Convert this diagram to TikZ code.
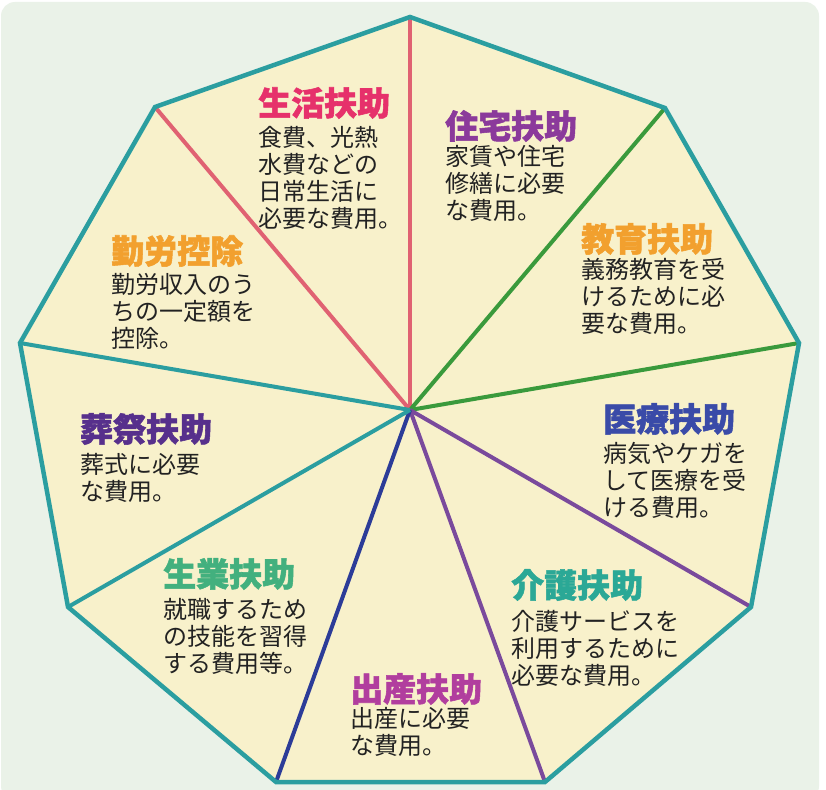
\documentclass[tikz,border=0pt]{standalone}
\usepackage{fontspec}
\newfontfamily\jp{Noto Sans CJK JP}
\newfontfamily\jpheavy{Noto Sans CJK JP}[BoldFeatures={FakeBold=1.6}]
\definecolor{bgmint}{HTML}{EAF2E8}
\definecolor{cream}{HTML}{F8F1CB}
\definecolor{edgeteal}{HTML}{2B9EA0}
\definecolor{spokepink}{HTML}{E06272}
\definecolor{spokegreen}{HTML}{3A9A3C}
\definecolor{spokepurple}{HTML}{7A4A9C}
\definecolor{spokeblue}{HTML}{2C3C98}
\definecolor{tPink}{HTML}{E6316B}
\definecolor{tPurple}{HTML}{8B3A9B}
\definecolor{tOrange}{HTML}{F2A02E}
\definecolor{tBlue}{HTML}{3A4BA8}
\definecolor{tTeal}{HTML}{2BA896}
\definecolor{tMag}{HTML}{B13E9E}
\definecolor{tGreen}{HTML}{42B07E}
\definecolor{tDPurple}{HTML}{57308C}
\definecolor{bodytext}{HTML}{222222}
\tikzset{
  titlebox/.style={anchor=north west, inner sep=0pt, font=\jpheavy\bfseries\fontsize{33}{36}\selectfont},
  bodybox/.style={anchor=north west, inner sep=0pt, align=left, text=bodytext, font=\jp\fontsize{24}{27}\selectfont},
  spoke/.style={line width=4pt},
}
\begin{document}
\begin{tikzpicture}[x=1pt,y=-1pt]
\useasboundingbox (0,0) rectangle (826,789);
\fill[white] (0,0) rectangle (826,789);
\fill[bgmint, rounded corners=14pt] (1,2) rectangle (819,800);
% vertices
\coordinate (c) at (410,410);
\coordinate (v0) at (410,17);
\coordinate (v1) at (665,108);
\coordinate (v2) at (799,343);
\coordinate (v3) at (751,607);
\coordinate (v4) at (545,782);
\coordinate (v5) at (276,782);
\coordinate (v6) at (68,607);
\coordinate (v7) at (20,343);
\coordinate (v8) at (155,107);
\fill[cream] (v0) -- (v1) -- (v2) -- (v3) -- (v4) -- (v5) -- (v6) -- (v7) -- (v8) -- cycle;
% spokes
\draw[spoke, spokepink] (c) -- (v0);
\draw[spoke, spokepink] (c) -- (v8);
\draw[spoke, spokegreen] (c) -- (v1);
\draw[spoke, spokegreen] (c) -- (v2);
\draw[spoke, spokepurple] (c) -- (v3);
\draw[spoke, spokepurple] (c) -- (v4);
\draw[spoke, spokeblue] (c) -- (v5);
\draw[spoke, edgeteal] (c) -- (v6);
\draw[spoke, edgeteal] (c) -- (v7);
\draw[edgeteal, line width=4.5pt] (v0) -- (v1) -- (v2) -- (v3) -- (v4) -- (v5) -- (v6) -- (v7) -- (v8) -- cycle;
% texts
\node[titlebox, text=tPink] (t1) at (258,87) {生活扶助};
\node[bodybox] (b1) at (258,126) {食費、光熱\\水費などの\\日常生活に\\必要な費用。};
\node[titlebox, text=tPurple] (t2) at (445,110) {住宅扶助};
\node[bodybox] (b2) at (445,145) {家賃や住宅\\修繕に必要\\な費用。};
\node[titlebox, text=tOrange] (t3) at (581,223) {教育扶助};
\node[bodybox] (b3) at (581,258) {義務教育を受\\けるために必\\要な費用。};
\node[titlebox, text=tBlue] (t4) at (603,403) {医療扶助};
\node[bodybox] (b4) at (603,442) {病気やケガを\\して医療を受\\ける費用。};
\node[titlebox, text=tTeal] (t5) at (511,569) {介護扶助};
\node[bodybox] (b5) at (511,610) {介護サービスを\\利用するために\\必要な費用。};
\node[titlebox, text=tMag] (t6) at (350,673) {出産扶助};
\node[bodybox] (b6) at (350,707) {出産に必要\\な費用。};
\node[titlebox, text=tGreen] (t7) at (163,558) {生業扶助};
\node[bodybox] (b7) at (163,598) {就職するため\\の技能を習得\\する費用等。};
\node[titlebox, text=tDPurple] (t8) at (80,413) {葬祭扶助};
\node[bodybox] (b8) at (80,453) {葬式に必要\\な費用。};
\node[titlebox, text=tOrange] (t9) at (111,235) {勤労控除};
\node[bodybox] (b9) at (111,273) {勤労収入のう\\ちの一定額を\\控除。};
\end{tikzpicture}
\end{document}
